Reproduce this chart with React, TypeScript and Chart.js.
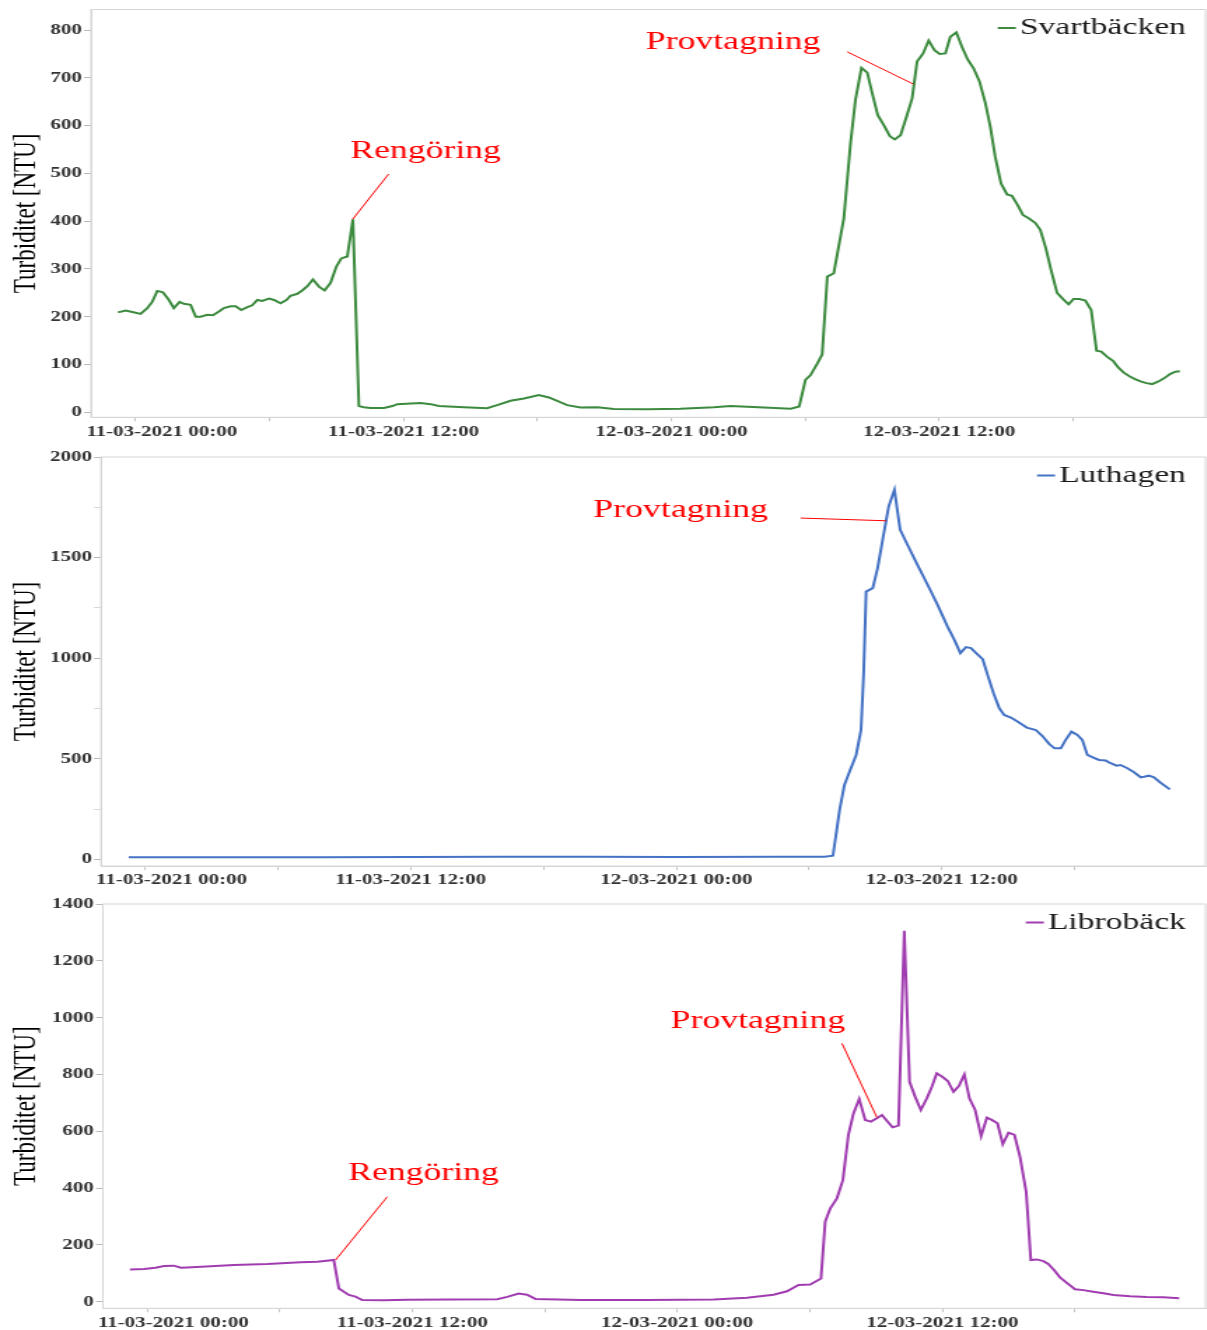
import React, { useEffect, useRef } from 'react';
import { Chart, registerables } from 'chart.js';

Chart.register(...registerables);

const FONT = "'Liberation Serif', 'Times New Roman', 'DejaVu Serif', serif";
const SX = 1.4; // the reference is stretched horizontally
const CANVAS_W = 862;
const X_MIN = -2;
const X_MAX = 47.92;

// x axis: hours after 11-03-2021 00:00
const xTickHours = [0, 6, 12, 18, 24, 30, 36, 42];
const xTickLabels = ['11-03-2021 00:00', '', '11-03-2021 12:00', '', '12-03-2021 00:00', '', '12-03-2021 12:00', ''];

// Svartbäcken
const svartHours = [-0.79, -0.45, -0.15, 0.22, 0.52, 0.74, 0.97, 1.22, 1.49, 1.71, 1.97, 2.16, 2.46, 2.69, 2.91, 3.21, 3.46, 3.73, 3.95, 4.25, 4.48, 4.73, 5.0, 5.22, 5.45, 5.67, 5.97, 6.2, 6.49, 6.75, 6.94, 7.24, 7.46, 7.69, 7.94, 8.21, 8.46, 8.73, 8.99, 9.21, 9.48, 9.73, 10.0, 10.22, 10.52, 11.12, 11.5, 11.72, 12.76, 13.21, 13.58, 14.7, 15.74, 16.19, 16.79, 17.39, 18.06, 18.51, 19.33, 19.93, 20.68, 21.42, 22.92, 24.4, 25.9, 26.65, 28.14, 29.35, 29.72, 30.0, 30.23, 30.53, 30.75, 30.98, 31.27, 31.72, 32.02, 32.24, 32.51, 32.77, 32.99, 33.24, 33.51, 33.78, 34.0, 34.26, 34.53, 34.78, 35.0, 35.27, 35.52, 35.78, 36.01, 36.27, 36.49, 36.76, 37.01, 37.26, 37.53, 37.8, 38.06, 38.28, 38.5, 38.76, 39.03, 39.25, 39.5, 39.74, 40.0, 40.3, 40.52, 40.77, 41.0, 41.27, 41.54, 41.79, 42.01, 42.27, 42.54, 42.8, 43.04, 43.25, 43.52, 43.79, 44.01, 44.26, 44.53, 44.79, 45.04, 45.28, 45.53, 45.79, 46.06, 46.33, 46.57, 46.77];
const svartValues = [209, 213, 210, 206, 218, 231, 254, 251, 235, 218, 231, 227, 225, 200, 200, 204, 203, 211, 218, 222, 222, 214, 220, 224, 235, 233, 238, 235, 228, 235, 244, 248, 255, 264, 278, 263, 255, 271, 305, 322, 326, 404, 13, 10.5, 9, 9, 13, 17, 19.5, 17, 13, 10.5, 8.4, 15, 24, 29, 36, 31, 15, 10, 10.5, 7, 6.3, 7.5, 10.5, 13, 10, 7.5, 12, 68, 78, 102, 121, 284, 291, 406, 563, 654, 721, 711, 668, 622, 601, 578, 571, 580, 619, 657, 734, 751, 778, 758, 750, 751, 786, 795, 765, 739, 720, 692, 647, 598, 535, 479, 456, 453, 434, 413, 406, 396, 382, 343, 298, 250, 237, 226, 237, 237, 234, 214, 129, 127, 116, 107, 94, 83, 75, 69, 64, 61, 59, 64, 71, 80, 85, 86];

// Luthagen
const luthHours = [-0.75, 3, 8, 12, 16, 20, 24, 28.6, 30.7, 31.08, 31.23, 31.38, 31.6, 31.83, 32.13, 32.35, 32.47, 32.58, 32.88, 33.1, 33.33, 33.6, 33.86, 34.12, 34.45, 34.9, 35.36, 35.81, 36.26, 36.57, 36.84, 37.09, 37.32, 37.59, 37.85, 38.07, 38.34, 38.6, 38.82, 39.12, 39.42, 39.84, 40.25, 40.55, 40.85, 41.1, 41.38, 41.6, 41.86, 42.13, 42.35, 42.58, 42.85, 43.11, 43.41, 43.63, 43.9, 44.08, 44.39, 44.69, 44.99, 45.14, 45.36, 45.59, 45.89, 46.31];
const luthValues = [10, 11, 11, 12, 13, 13, 12, 13, 13, 18, 129, 245, 370, 436, 519, 643, 925, 1331, 1348, 1448, 1589, 1754, 1837, 1638, 1564, 1464, 1365, 1265, 1157, 1091, 1025, 1055, 1050, 1021, 995, 917, 826, 751, 718, 705, 685, 655, 643, 613, 574, 552, 552, 594, 635, 618, 594, 519, 506, 494, 491, 478, 466, 469, 453, 433, 408, 411, 416, 408, 381, 348];

// Librobäck
const libroHours = [-0.78, -0.14, 0.38, 0.76, 1.21, 1.52, 1.82, 3.93, 5.44, 6.95, 7.7, 8.45, 8.68, 9.13, 9.43, 9.74, 10.71, 11.77, 15.85, 16.3, 16.82, 17.2, 17.58, 19.62, 22.63, 25.65, 27.16, 28.36, 28.97, 29.49, 30.02, 30.33, 30.51, 30.7, 30.93, 31.23, 31.5, 31.75, 31.98, 32.24, 32.51, 32.77, 33.04, 33.27, 33.49, 33.75, 34.02, 34.28, 34.52, 34.77, 35.03, 35.3, 35.53, 35.75, 36.0, 36.25, 36.51, 36.76, 37.0, 37.23, 37.49, 37.76, 38.02, 38.24, 38.5, 38.74, 39.0, 39.27, 39.52, 39.8, 40.01, 40.28, 40.58, 40.8, 41.06, 41.33, 41.67, 42.01, 42.39, 42.84, 43.3, 43.75, 44.5, 45.26, 46.0, 46.73];
const libroValues = [114, 115, 120, 126, 127, 120, 121, 129, 133, 139, 141, 147, 47, 24, 18, 6, 5, 7, 9, 17, 29, 25, 10, 6, 6, 8, 14, 25, 37, 59, 61, 74, 82, 282, 329, 364, 428, 587, 663, 714, 640, 634, 646, 657, 637, 614, 620, 1306, 774, 722, 675, 716, 757, 804, 792, 777, 739, 760, 800, 716, 675, 583, 648, 640, 628, 555, 595, 587, 510, 387, 147, 149, 143, 133, 112, 86, 65, 44, 41, 35, 30, 24, 19, 17, 16, 12];

// y tick values
const svartYTicks = [0, 100, 200, 300, 400, 500, 600, 700, 800];
const luthYTicks = [0, 250, 500, 750, 1000, 1250, 1500, 1750, 2000];
const libroYTicks = [0, 200, 400, 600, 800, 1000, 1200, 1400];

type Note = { text: string; at: [number, number]; from: [number, number]; to: [number, number] };

const svartNotes: Note[] = [
  { text: 'Rengöring', at: [12.99, 547], from: [11.33, 498.6], to: [9.72, 404] },
  { text: 'Provtagning', at: [26.76, 775], from: [31.87, 754.5], to: [34.83, 687] },
];
const luthNotes: Note[] = [
  { text: 'Provtagning', at: [24.2, 1733], from: [29.62, 1696.5], to: [33.48, 1683] },
];
const libroNotes: Note[] = [
  { text: 'Provtagning', at: [27.65, 988], from: [31.46, 909.5], to: [33.04, 649] },
  { text: 'Rengöring', at: [12.51, 453], from: [10.87, 369.6], to: [8.53, 146.8] },
];

const LEGEND_FONT = 24;
const LEGEND_PAD = 10;
const LEGEND_LINE = 13;

// legend marker: a short line that sits right before the text
function makeMarker(color: string): HTMLCanvasElement {
  const c = document.createElement('canvas');
  c.width = 32;
  c.height = 4;
  const g = c.getContext('2d');
  if (g) {
    g.strokeStyle = color;
    g.lineWidth = 2;
    g.beginPath();
    g.moveTo(18.7, 2);
    g.lineTo(31.6, 2);
    g.stroke();
  }
  return c;
}

const notesPlugin = {
  id: 'notes',
  afterDatasetsDraw(chart: any, _args: any, opts: any) {
    const { ctx } = chart;
    const x = chart.scales.x;
    const y = chart.scales.y;
    ctx.save();
    ctx.strokeStyle = '#ff0000';
    ctx.fillStyle = '#ff0000';
    ctx.lineWidth = 1;
    ctx.font = `25.5px ${FONT}`;
    ctx.textAlign = 'center';
    ctx.textBaseline = 'middle';
    for (const n of (opts.items || []) as Note[]) {
      ctx.beginPath();
      ctx.moveTo(x.getPixelForValue(n.from[0]), y.getPixelForValue(n.from[1]));
      ctx.lineTo(x.getPixelForValue(n.to[0]), y.getPixelForValue(n.to[1]));
      ctx.stroke();
      ctx.fillText(n.text, x.getPixelForValue(n.at[0]), y.getPixelForValue(n.at[1]));
    }
    ctx.restore();
  },
};

const framePlugin = {
  id: 'frame',
  afterLayout(chart: any) {
    const lg = chart.legend;
    if (!lg) return;
    const a = chart.chartArea;
    const ctx = chart.ctx;
    ctx.save();
    ctx.font = `${LEGEND_FONT}px ${FONT}`;
    const tw = ctx.measureText(chart.data.datasets[0].label).width;
    ctx.restore();
    const half = LEGEND_FONT / 2;
    const textRight = a.right - 14;
    lg.left = textRight - tw - half - LEGEND_LINE - LEGEND_PAD;
    lg.width = tw + half + LEGEND_LINE + 2 * LEGEND_PAD;
    lg.right = lg.left + lg.width;
    lg.top = a.top + 18.5 - LEGEND_PAD - LEGEND_FONT / 2;
    lg.height = LEGEND_FONT + 2 * LEGEND_PAD;
    lg.bottom = lg.top + lg.height;
  },
  beforeDatasetsDraw(chart: any) {
    const { ctx, chartArea: a } = chart;
    ctx.save();
    ctx.strokeStyle = '#d6d6d6';
    ctx.lineWidth = 1;
    ctx.strokeRect(a.left, a.top, a.right - a.left, a.bottom - a.top);
    ctx.restore();
  },
};

interface PanelCfg {
  label: string;
  color: string;
  hours: number[];
  values: number[];
  yTicks: number[];
  yLabelStep: number;
  yMin: number;
  yMax: number;
  top: number;
  height: number;
  plotTop: number;
  axisH: number;
  axisW: number;
  notes: Note[];
}

const PANELS: PanelCfg[] = [
  { label: 'Svartbäcken', color: '#3b8a3e', hours: svartHours, values: svartValues, yTicks: svartYTicks, yLabelStep: 100, yMin: -10.5, yMax: 843, top: 0, height: 445, plotTop: 9.5, axisH: 27.7, axisW: 65, notes: svartNotes },
  { label: 'Luthagen', color: '#4472c4', hours: luthHours, values: luthValues, yTicks: luthYTicks, yLabelStep: 500, yMin: -33, yMax: 2000, top: 445, height: 445, plotTop: 12, axisH: 24, axisW: 72.14, notes: luthNotes },
  { label: 'Librobäck', color: '#a03cb0', hours: libroHours, values: libroValues, yTicks: libroYTicks, yLabelStep: 200, yMin: -23, yMax: 1400, top: 890, height: 440, plotTop: 14, axisH: 21.7, axisW: 73.57, notes: libroNotes },
];

const PLOT_RIGHT = 1205.5 / SX;

function xLabel(v: number): string {
  const i = xTickHours.indexOf(v);
  if (i < 0) return '';
  const lab = xTickLabels[i];
  return i === 0 ? ' '.repeat(10) + lab : lab;
}

function Panel({ cfg }: { cfg: PanelCfg }) {
  const ref = useRef<HTMLCanvasElement>(null);
  useEffect(() => {
    const canvas = ref.current;
    if (!canvas) return;
    const tickFont = { family: FONT, size: 15, weight: 'bold' as const };
    const chart = new Chart(canvas, {
      type: 'line',
      data: {
        datasets: [
          {
            label: cfg.label,
            data: cfg.hours.map((h, i) => ({ x: h, y: cfg.values[i] })),
            borderColor: cfg.color,
            backgroundColor: cfg.color,
            borderWidth: 2,
            pointRadius: 0,
            tension: 0,
            fill: false,
          },
        ],
      },
      options: {
        animation: false,
        responsive: false,
        devicePixelRatio: 1,
        events: [],
        layout: { padding: { left: 0, right: CANVAS_W - PLOT_RIGHT, top: cfg.plotTop, bottom: 0 } },
        plugins: {
          legend: {
            position: 'chartArea' as any,
            align: 'start',
            labels: {
              usePointStyle: true,
              pointStyle: makeMarker(cfg.color),
              pointStyleWidth: LEGEND_LINE,
              padding: LEGEND_PAD,
              textAlign: 'left',
              color: '#1a1a1a',
              font: { family: FONT, size: LEGEND_FONT },
            },
          },
          tooltip: { enabled: false },
          // @ts-ignore
          notes: { items: cfg.notes },
        },
        scales: {
          x: {
            type: 'linear',
            min: X_MIN,
            max: X_MAX,
            afterBuildTicks: (s: any) => {
              s.ticks = xTickHours.map((v) => ({ value: v }));
            },
            afterFit: (s: any) => {
              s.height = cfg.axisH;
            },
            grid: { drawOnChartArea: false, drawTicks: true, tickLength: 4, color: '#c6c6c6' },
            border: { display: true, color: '#d6d6d6' },
            ticks: {
              autoSkip: false,
              maxRotation: 0,
              minRotation: 0,
              padding: 1.5,
              color: '#333333',
              font: tickFont,
              callback: (v: any) => xLabel(Number(v)),
            },
          },
          y: {
            type: 'linear',
            min: cfg.yMin,
            max: cfg.yMax,
            afterBuildTicks: (s: any) => {
              s.ticks = cfg.yTicks.map((v) => ({ value: v }));
            },
            afterFit: (s: any) => {
              s.width = cfg.axisW;
            },
            grid: {
              drawOnChartArea: false,
              drawTicks: true,
              tickLength: 5,
              tickColor: (c: any) => (c.tick && c.tick.value % cfg.yLabelStep === 0 ? '#b8b8b8' : '#d8d8d8'),
            },
            border: { display: true, color: '#d6d6d6' },
            title: {
              display: true,
              text: 'Turbiditet [NTU]',
              color: '#000000',
              font: { family: FONT, size: 23 },
              padding: { top: 5.5, bottom: 0 },
            },
            ticks: {
              autoSkip: false,
              padding: 1.5,
              color: '#333333',
              font: { ...tickFont, lineHeight: 1 },
              callback: (v: any) => (Number(v) % cfg.yLabelStep === 0 ? String(v) : ''),
            },
          },
        },
      } as any,
      plugins: [framePlugin, notesPlugin],
    });
    return () => chart.destroy();
  }, [cfg]);
  return (
    <div
      style={{
        position: 'absolute',
        left: 0,
        top: cfg.top,
        width: CANVAS_W,
        height: cfg.height,
        transform: `scaleX(${SX})`,
        transformOrigin: '0 0',
      }}
    >
      <canvas ref={ref} width={CANVAS_W} height={cfg.height} style={{ display: 'block' }} />
    </div>
  );
}

export default function App() {
  return (
    <div
      style={{
        position: 'absolute',
        left: 0,
        top: 0,
        width: 1207,
        height: 1330,
        background: '#ffffff',
        overflow: 'hidden',
      }}
    >
      {PANELS.map((p) => (
        <Panel key={p.top} cfg={p} />
      ))}
    </div>
  );
}
